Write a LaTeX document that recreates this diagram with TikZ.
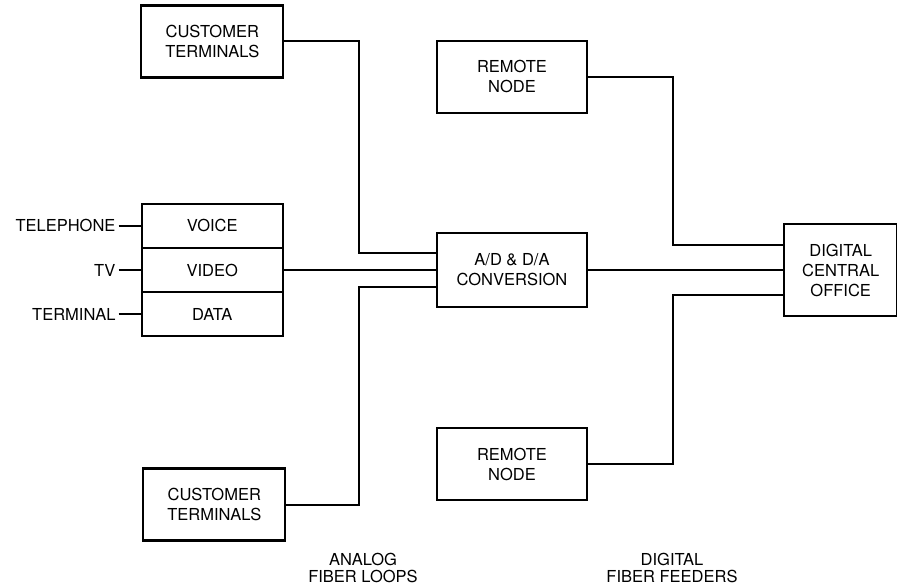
\documentclass[tikz,border=0pt]{standalone}
\usepackage{fontspec}
\setmainfont{TeX Gyre Heros}
\usepackage{tikz}
\usetikzlibrary{positioning}

\tikzset{
  block/.style={draw, line width=2.2pt, align=center, inner sep=2pt,
    font=\fontsize{16.5}{20}\selectfont},
  lbl/.style={align=center, inner sep=3pt, font=\fontsize{16.5}{17.5}\selectfont},
  wire/.style={line width=2pt}
}

\begin{document}
\begin{tikzpicture}[x=1pt,y=1pt]
	  \useasboundingbox (0,0) rectangle (897,-588);

	  \node[block, minimum width=150pt, minimum height=74pt] (adc) at (512,-270) {A/D \& D/A\\CONVERSION} ; %
	  \node[block, minimum width=150pt, minimum height=72pt, above=118pt of adc] (rn1) {REMOTE\\NODE};
	  \node[block, minimum width=150pt, minimum height=72pt, below=119pt of adc] (rn2) {REMOTE\\NODE};
	  \node[block, minimum width=113pt, minimum height=92pt, right=195pt of adc] (dco) {DIGITAL\\CENTRAL\\OFFICE};

	  \node[block, minimum width=141pt, minimum height=44.2pt, left=152pt of adc] (video) {VIDEO};
	  \node[block, minimum width=141pt, minimum height=44.2pt, above=-2.2pt of video] (voice) {VOICE};
	  \node[block, minimum width=141pt, minimum height=44.2pt, below=-2.2pt of video] (data) {DATA};

	  \node[block, minimum width=142pt, minimum height=72pt, above=124pt of voice] (cust1) {CUSTOMER\\TERMINALS};
	  \node[block, minimum width=142pt, minimum height=72pt, below=130pt of data, xshift=2pt] (cust2) {CUSTOMER\\TERMINALS};

	  \node[lbl, left=22pt of voice] (tel) {TELEPHONE};
	  \node[lbl, left=22pt of video] (tv) {TV};
	  \node[lbl, left=22pt of data] (term) {TERMINAL};

	  \node[lbl] (analog) at (363,-568) {ANALOG\\FIBER LOOPS};
	  \node[lbl] (digital) at (672,-568) {DIGITAL\\FIBER FEEDERS};

	  % analog side
	  \draw[wire] (tel) -- (voice);
	  \draw[wire] (tv) -- (video);
	  \draw[wire] (term) -- (data);
	  \draw[wire] (cust1.east) -- ++(75,0) |- ([yshift=17pt]adc.west);
	  \draw[wire] (video) -- (adc);
	  \draw[wire] (cust2.east) -- ++(73,0) |- ([yshift=-17pt]adc.west);

	  % digital side
	  \draw[wire] (rn1.east) -- ++(85,0) |- ([yshift=25pt]dco.west);
	  \draw[wire] (adc) -- (dco);
	  \draw[wire] (rn2.east) -- ++(85,0) |- ([yshift=-25pt]dco.west);

\end{tikzpicture}
\end{document}
